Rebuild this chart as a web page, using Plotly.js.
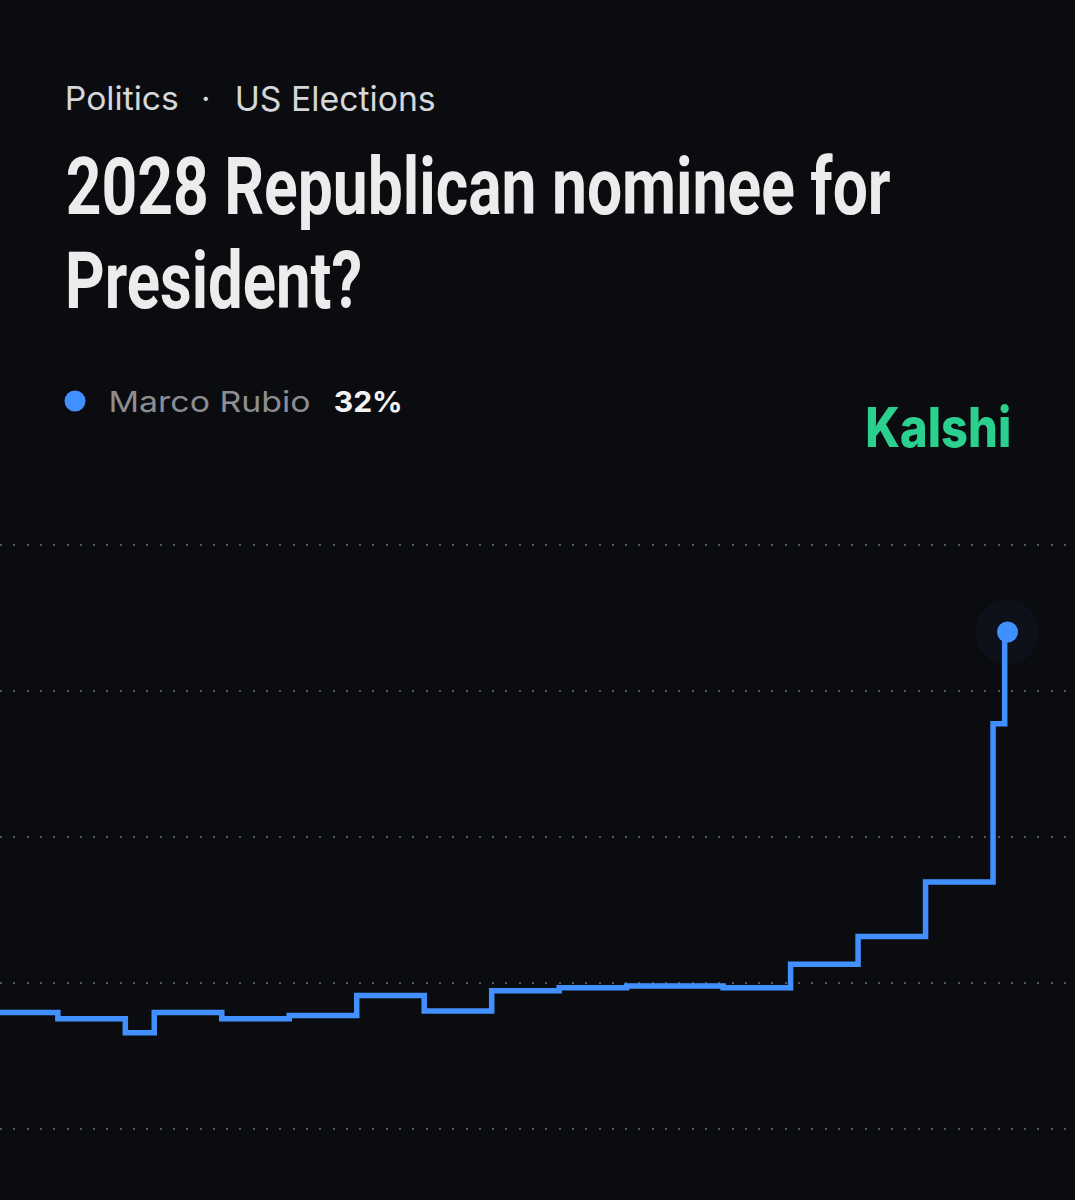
<!DOCTYPE html>
<html>
<head>
<meta charset="utf-8">
<script src="https://cdn.plot.ly/plotly-3.0.1.min.js"></script>
<style>
  html, body { margin: 0; padding: 0; background: #0b0c10; }
  #chart { width: 1075px; height: 1200px; }
</style>
</head>
<body>
<div id="chart"></div>
<script>
// Data: Marco Rubio chance (%), step changes
const dates = [
  "2025-08-01", "2025-08-07", "2025-08-14", "2025-08-17", "2025-08-24",
  "2025-08-31", "2025-09-07", "2025-09-14", "2025-09-21", "2025-09-28",
  "2025-10-05", "2025-10-15", "2025-10-22", "2025-10-29", "2025-11-05",
  "2025-11-12", "2025-11-13 05:00", "2025-11-13 12:00"
];
const rubio = [
  7.5, 7.1, 6.2, 7.5, 7.1,
  7.3, 8.6, 7.6, 8.9, 9.1,
  9.2, 9.1, 10.6, 12.4, 15.9,
  26.1, 32, 32
];
const gridVals = [0, 9.4, 18.8, 28.2, 37.6];
const lastDate = [dates[dates.length - 1]];
const lastVal = [rubio[rubio.length - 1]];

const blue = "#4290ff";
const W = 1075, H = 1200;
const px = v => v / W;
const py = v => 1 - v / H;

const traces = [
  {
    x: dates, y: rubio, type: "scatter", mode: "lines",
    line: { color: blue, width: 5.5, shape: "hv" },
    hoverinfo: "skip"
  },
  {
    x: lastDate, y: lastVal, type: "scatter", mode: "markers",
    marker: { size: 64, color: "rgba(66,144,255,0.045)" },
    hoverinfo: "skip"
  },
  {
    x: lastDate, y: lastVal, type: "scatter", mode: "markers",
    marker: { size: 21, color: blue },
    hoverinfo: "skip"
  }
];

const sans = "Inter, 'Noto Sans', sans-serif";
const titleFont = { family: "Roboto, 'Noto Sans', sans-serif", size: 60, weight: 700, color: "#ececed" };

// text items: [text, centerX, centerY, fitWidth, font, verticalScale]
const texts = [
  ["Politics", 122, 98, 114, { family: sans, size: 33, color: "#d6d7da" }, 1],
  ["·", 206, 98, 0, { family: sans, size: 33, color: "#d6d7da" }, 1],
  ["US Elections", 334.5, 98, 201, { family: sans, size: 34, color: "#d6d7da" }, 1],
  ["2028 Republican nominee for", 477.5, 186, 825, titleFont, 80 / 60],
  ["President?", 213.5, 280, 297, titleFont, 80 / 60],
  ["Marco Rubio", 209, 402, 202, { family: sans, size: 29, color: "#8d8e92" }, 1],
  ["32%", 367.5, 402, 69, { family: sans, size: 29, weight: 700, color: "#f2f2f3" }, 1],
  ["Kalshi", 938, 427, 146, { family: sans, size: 55, weight: 800, color: "#2bd08e" }, 1]
];

const layout = {
  width: W, height: H,
  paper_bgcolor: "#0b0c10",
  plot_bgcolor: "#0b0c10",
  margin: { l: 0, r: 0, t: 0, b: 0, pad: 0 },
  showlegend: false,
  xaxis: {
    type: "date",
    range: ["2025-08-01", "2025-11-20 12:00"],
    domain: [0, 1],
    showgrid: false, zeroline: false, showline: false,
    showticklabels: false, ticks: ""
  },
  yaxis: {
    range: [-1.996, 43.075],
    domain: [1 - 1160 / H, 1 - 460 / H],
    tickvals: gridVals,
    showticklabels: false, ticks: "",
    showgrid: true, gridcolor: "#55585e", gridwidth: 2,
    griddash: "2px,11.3px",
    zeroline: false, showline: false
  },
  shapes: [
    {
      type: "circle", xref: "paper", yref: "paper",
      x0: px(64.5), x1: px(85.5), y0: py(411.5), y1: py(390.5),
      fillcolor: blue, line: { width: 0 }
    }
  ],
  annotations: texts.map(t => ({
    text: t[0], x: px(t[1]), y: py(t[2]), xref: "paper", yref: "paper",
    xanchor: "center", yanchor: "middle", align: "center", showarrow: false,
    font: t[4]
  }))
};

Plotly.newPlot("chart", traces, layout, { displayModeBar: false, staticPlot: true }).then(gd => {
  gd.querySelectorAll("g.annotation").forEach(g => {
    const i = +g.getAttribute("data-index");
    const item = texts[i];
    if (!item) return;
    const w = item[3], s = item[5];
    const t = g.querySelector("text.annotation-text");
    if (!t) return;
    if (w) {
      t.setAttribute("textLength", w);
      t.setAttribute("lengthAdjust", "spacingAndGlyphs");
      const r = g.querySelector("rect.bg");
      if (r) {
        const ow = +r.getAttribute("width");
        const ox = +(r.getAttribute("x") || 0);
        r.setAttribute("width", w);
        r.setAttribute("x", ox + (ow - w) / 2);
      }
    }
    if (s && s !== 1) {
      t.style.transformBox = "fill-box";
      t.style.transformOrigin = "center";
      t.style.transform = "scaleY(" + s + ")";
    }
  });
});
</script>
</body>
</html>
